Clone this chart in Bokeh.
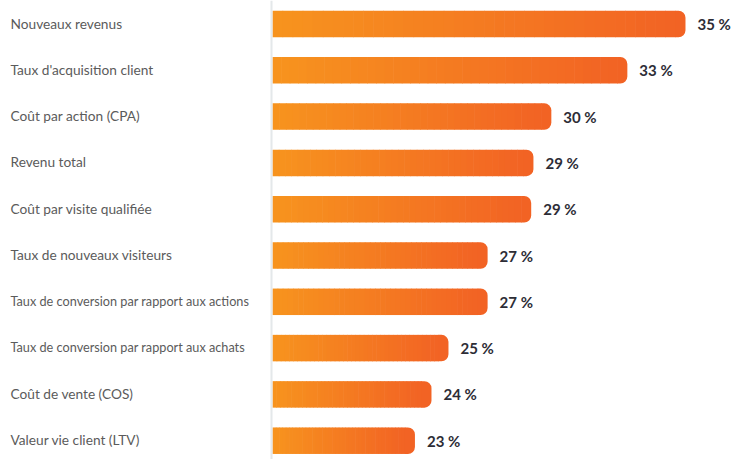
from bokeh.plotting import figure
from bokeh.models import Range1d, Span, ColumnDataSource
from bokeh.core.properties import value
from bokeh.embed import file_html
from bokeh.resources import INLINE

# ---- data ----
categories = [
    "Nouveaux revenus",
    "Taux d'acquisition client",
    "Coût par action (CPA)",
    "Revenu total",
    "Coût par visite qualifiée",
    "Taux de nouveaux visiteurs",
    "Taux de conversion par rapport aux actions",
    "Taux de conversion par rapport aux achats",
    "Coût de vente (COS)",
    "Valeur vie client (LTV)",
]
percent_labels = ["35 %", "33 %", "30 %", "29 %", "29 %", "27 %", "27 %", "25 %", "24 %", "23 %"]
# bar lengths (axis does not start at zero)
bar_values = [35.6, 33.0, 29.6, 28.8, 28.7, 26.75, 26.75, 25.0, 24.24, 23.5]

# ---- scale setup ----
W, H = 734, 459
axis_origin = 17.13          # value at which bars start
px_per_unit = 22.36
origin_px = 272
x_start = axis_origin - origin_px / px_per_unit
x_end = axis_origin + (W - origin_px) / px_per_unit
row_px = 46.3
first_center_px = 23.5
y_top = -first_center_px / row_px
y_bottom = (H - first_center_px) / row_px

p = figure(width=W, height=H, output_backend="svg", toolbar_location=None,
           x_range=Range1d(x_start, x_end), y_range=Range1d(y_bottom, y_top),
           min_border=0, outline_line_color=None, background_fill_color="white",
           border_fill_color="white")
p.axis.visible = False
p.grid.visible = False

# vertical baseline
p.add_layout(Span(location=axis_origin - 1.0 / px_per_unit, dimension="height",
                  line_color="#E4E8EA", line_width=2))

c0 = (247, 148, 30)
c1 = (242, 99, 36)

def mix(t):
    return "#%02x%02x%02x" % tuple(int(round(a + (b - a) * t)) for a, b in zip(c0, c1))

N = 40
cap = 10.0 / px_per_unit
eps = 0.6 / px_per_unit
seg_l, seg_r, seg_y, seg_c = [], [], [], []
cap_l, cap_r, cap_y = [], [], []
bar_h = 26.5 / row_px
for i, v in enumerate(bar_values):
    body_end = v - cap
    span = body_end - axis_origin
    for k in range(N):
        l = axis_origin + span * k / N
        r = axis_origin + span * (k + 1) / N + eps
        seg_l.append(l)
        seg_r.append(r)
        seg_y.append(i)
        seg_c.append(mix((k + 0.5) / N))
    cap_l.append(body_end)
    cap_r.append(v)
    cap_y.append(i)

p.hbar(y=seg_y, left=seg_l, right=seg_r, height=bar_h, fill_color=seg_c,
       line_color=None)
p.hbar(y=cap_y, left=cap_l, right=cap_r, height=bar_h, fill_color=mix(1.0),
       line_color=None, border_radius=(0, 7, 7, 0))

ys = list(range(len(categories)))
sizes = ["12.7px" if len(c) > 35 else "13.7px" for c in categories]
src = ColumnDataSource(dict(x=[x_start] * len(categories), y=ys, text=categories, size=sizes))
p.text(x="x", y="y", text="text", source=src, x_offset=10, y_offset=-1,
       text_font_size="size", text_baseline="middle", text_align="left",
       text_color="#5b5b5b", text_font=value("Lato"))

p.text(x=bar_values, y=ys, text=percent_labels, x_offset=12, text_font_size="15px",
       text_font_style="bold", text_baseline="middle", text_align="left",
       text_color="#2d2d36", text_font=value("Lato"))

open("out.html", "w").write(file_html(p, INLINE))
